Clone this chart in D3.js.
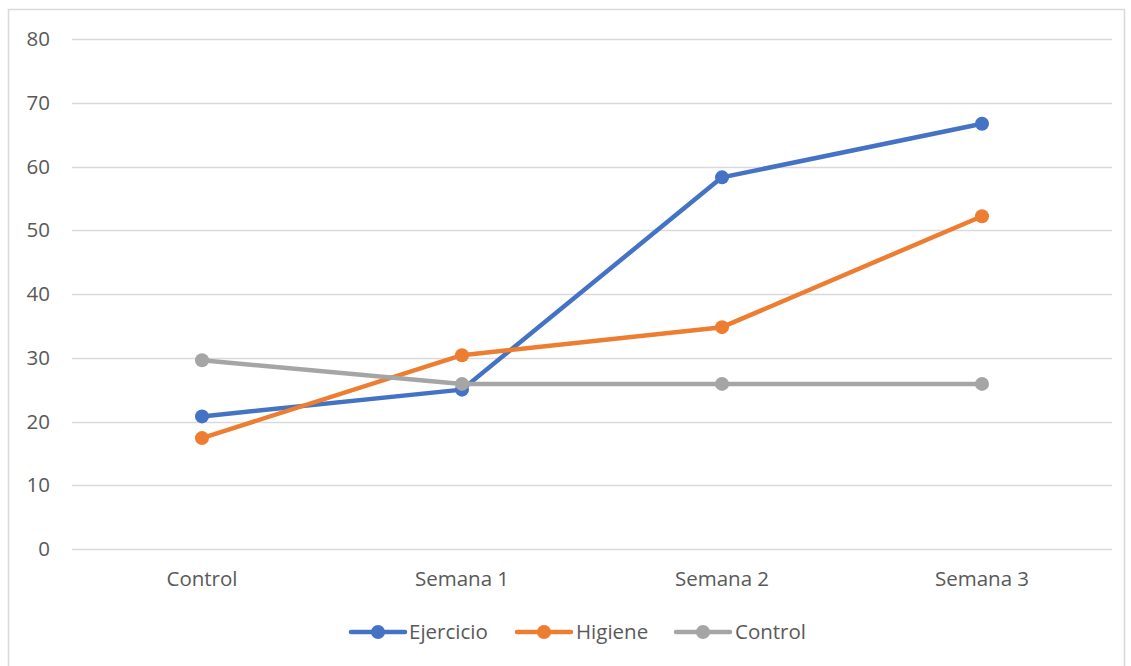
<!DOCTYPE html>
<html>
<head>
<meta charset="utf-8">
<script src="https://cdn.jsdelivr.net/npm/d3@7"></script>
<style>
  html, body { margin: 0; padding: 0; background: #fff; }
  svg { display: block; font-family: "Open Sans", "Noto Sans", sans-serif; }
</style>
</head>
<body>
<svg id="chart" width="1131" height="666"></svg>
<script>
const categories = ["Control", "Semana 1", "Semana 2", "Semana 3"];
const ejercicio = [20.8, 25.0, 58.3, 66.7];
const higiene = [17.4, 30.4, 34.8, 52.2];
const control = [29.6, 25.9, 25.9, 25.9];
const yTicks = [0, 10, 20, 30, 40, 50, 60, 70, 80];

const series = [
  { name: "Ejercicio", values: ejercicio, color: "#4472C4" },
  { name: "Higiene", values: higiene, color: "#ED7D31" },
  { name: "Control", values: control, color: "#A5A5A5" }
];

const FONT = "'Open Sans', 'Noto Sans', sans-serif";
const FS = 20.5;
const TEXT = "#595959";

const svg = d3.select("#chart");

// chart frame
svg.append("rect")
  .attr("x", 8.5).attr("y", 9.5)
  .attr("width", 1116).attr("height", 670)
  .attr("fill", "none").attr("stroke", "#D9D9D9").attr("stroke-width", 1.5);

const x = d3.scaleBand().domain(categories).range([72, 1112]);
const y = d3.scaleLinear().domain([0, 80]).range([549, 39]);

// horizontal gridlines
svg.append("g")
  .selectAll("line")
  .data(yTicks)
  .join("line")
  .attr("x1", 72).attr("x2", 1112)
  .attr("y1", d => Math.round(y(d)) + 0.5)
  .attr("y2", d => Math.round(y(d)) + 0.5)
  .attr("stroke", "#D9D9D9").attr("stroke-width", 1.3);

// y axis labels
const yAxis = d3.axisLeft(y).tickValues(yTicks).tickSize(0).tickPadding(0);
svg.append("g")
  .attr("transform", "translate(50,0)")
  .call(yAxis)
  .call(g => g.select(".domain").remove())
  .call(g => g.selectAll("text")
    .attr("fill", TEXT).attr("font-size", FS).attr("font-family", FONT));

// x axis labels
const xAxis = d3.axisBottom(x).tickSize(0).tickPadding(0);
svg.append("g")
  .attr("transform", "translate(0,571)")
  .call(xAxis)
  .call(g => g.select(".domain").remove())
  .call(g => g.selectAll("text")
    .attr("fill", TEXT).attr("font-size", FS).attr("font-family", FONT));

const cx = c => x(c) + x.bandwidth() / 2;
const line = d3.line()
  .x((d, i) => cx(categories[i]))
  .y(d => y(d));

series.forEach(s => {
  const g = svg.append("g");
  g.append("path")
    .attr("d", line(s.values))
    .attr("fill", "none")
    .attr("stroke", s.color)
    .attr("stroke-width", 4.5)
    .attr("stroke-linejoin", "round")
    .attr("stroke-linecap", "round");
  g.selectAll("circle")
    .data(s.values)
    .join("circle")
    .attr("cx", (d, i) => cx(categories[i]))
    .attr("cy", d => y(d))
    .attr("r", 7)
    .attr("fill", s.color);
});

// legend
const legendItems = [
  { x0: 351, tx: 409 },
  { x0: 517, tx: 576 },
  { x0: 676, tx: 735 }
];
const legend = svg.append("g");
series.forEach((s, i) => {
  const li = legendItems[i];
  const ly = 632;
  legend.append("line")
    .attr("x1", li.x0).attr("x2", li.x0 + 54)
    .attr("y1", ly).attr("y2", ly)
    .attr("stroke", s.color).attr("stroke-width", 4.5)
    .attr("stroke-linecap", "round");
  legend.append("circle")
    .attr("cx", li.x0 + 27).attr("cy", ly).attr("r", 7)
    .attr("fill", s.color);
  legend.append("text")
    .attr("x", li.tx).attr("y", ly)
    .attr("dy", "0.35em")
    .attr("fill", TEXT).attr("font-size", FS).attr("font-family", FONT)
    .text(s.name);
});
</script>
</body>
</html>
